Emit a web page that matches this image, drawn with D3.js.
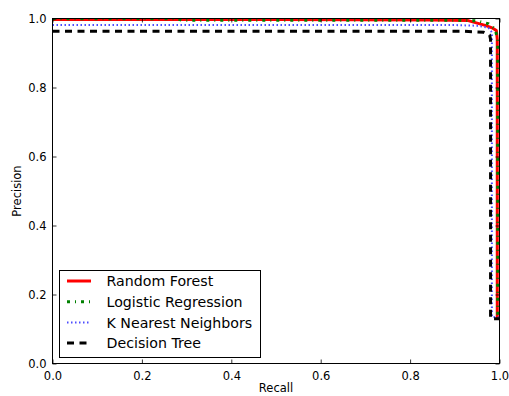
<!DOCTYPE html>
<html>
<head>
<meta charset="utf-8">
<script src="https://cdn.jsdelivr.net/npm/d3@7"></script>
<style>
  body { margin: 0; background: #fff; }
  text { font-family: "DejaVu Sans", sans-serif; fill: #000; }
</style>
</head>
<body>
<svg id="chart" width="509" height="396"></svg>
<script>
// precision-recall curves, values
const seriesNames = ["Random Forest", "Logistic Regression", "K Nearest Neighbors", "Decision Tree"]

const rfRecall    = [0, 0.50, 0.85, 0.93, 0.968, 0.985, 0.993, 0.995, 0.995, 1.0]
const rfPrecision = [0.997, 0.997, 0.996, 0.994, 0.98, 0.972, 0.965, 0.94, 0.133, 0.133]

const lrRecall    = [0, 0.28, 0.29, 0.90, 0.95, 0.975, 0.99, 0.996, 0.996, 1.0]
const lrPrecision = [0.999, 0.999, 0.995, 0.995, 0.993, 0.985, 0.97, 0.94, 0.133, 0.133]

const knnRecall    = [0, 0.90, 0.95, 0.975, 0.983, 0.983, 1.0]
const knnPrecision = [0.981, 0.981, 0.979, 0.973, 0.96, 0.135, 0.133]

const dtRecall    = [0, 0.92, 0.965, 0.978, 0.98, 0.98, 1.0]
const dtPrecision = [0.963, 0.963, 0.96, 0.952, 0.94, 0.13, 0.13]

const xTicks = [0, 0.2, 0.4, 0.6, 0.8, 1.0]
const yTicks = [0, 0.2, 0.4, 0.6, 0.8, 1.0]

const colors = ["#ff0000", "#008000", "#4d4dff", "#000000"]
const dashes = [null, "3,5,1,5", "1.5,2.5", "7,5.5"]
const widths = [3, 3, 2, 3]

const pLeft = 52.5, pRight = 499.5, pTop = 18.5, pBottom = 363.5

const x = d3.scaleLinear().domain([0, 1]).range([pLeft, pRight])
const y = d3.scaleLinear().domain([0, 1]).range([pBottom, pTop])

const svg = d3.select("#chart")

svg.append("defs").append("clipPath")
   .attr("id", "plotClip")
   .append("rect")
   .attr("x", pLeft).attr("y", pTop)
   .attr("width", pRight - pLeft).attr("height", pBottom - pTop)

const curves = [
  rfRecall.map((r, i) => [r, rfPrecision[i]]),
  lrRecall.map((r, i) => [r, lrPrecision[i]]),
  knnRecall.map((r, i) => [r, knnPrecision[i]]),
  dtRecall.map((r, i) => [r, dtPrecision[i]])
]

const line = d3.line().x(d => x(d[0])).y(d => y(d[1]))

const plot = svg.append("g").attr("clip-path", "url(#plotClip)")

curves.forEach((c, i) => {
  plot.append("path")
      .attr("d", line(c))
      .attr("fill", "none")
      .attr("stroke", colors[i])
      .attr("stroke-width", widths[i])
      .attr("stroke-dasharray", dashes[i])
      .attr("stroke-linejoin", "round")
})

// axes, ticks pointing inward on all sides
const axB = svg.append("g").attr("transform", `translate(0,${pBottom})`)
               .call(d3.axisBottom(x).tickValues(xTicks).tickFormat(d3.format(".1f")).tickSizeInner(-4).tickSizeOuter(0).tickPadding(6))
const axT = svg.append("g").attr("transform", `translate(0,${pTop})`)
               .call(d3.axisTop(x).tickValues(xTicks).tickFormat("").tickSizeInner(-4).tickSizeOuter(0))
const axL = svg.append("g").attr("transform", `translate(${pLeft},0)`)
               .call(d3.axisLeft(y).tickValues(yTicks).tickFormat(d3.format(".1f")).tickSizeInner(-4).tickSizeOuter(0).tickPadding(6))
const axR = svg.append("g").attr("transform", `translate(${pRight},0)`)
               .call(d3.axisRight(y).tickValues(yTicks).tickFormat("").tickSizeInner(-4).tickSizeOuter(0))

;[axB, axT, axL, axR].forEach(a => {
  a.select(".domain").remove()
  a.selectAll(".tick line").attr("stroke", "#000").attr("stroke-width", 0.8)
  a.selectAll("text").attr("font-size", 11.5).style("font-family", "DejaVu Sans")
})
axB.selectAll("text").attr("dy", "0.9em")

svg.append("rect")
   .attr("x", pLeft).attr("y", pTop)
   .attr("width", pRight - pLeft).attr("height", pBottom - pTop)
   .attr("fill", "none").attr("stroke", "#000").attr("stroke-width", 1)

svg.append("text")
   .attr("x", (pLeft + pRight) / 2).attr("y", 392)
   .attr("text-anchor", "middle").attr("font-size", 11.5)
   .text("Recall")

svg.append("text")
   .attr("transform", `translate(21,${(pTop + pBottom) / 2}) rotate(-90)`)
   .attr("text-anchor", "middle").attr("font-size", 11.5)
   .text("Precision")

// legend
const legend = svg.append("g")
legend.append("rect")
      .attr("x", 59.5).attr("y", 270.5)
      .attr("width", 201).attr("height", 87)
      .attr("fill", "#fff").attr("stroke", "#000").attr("stroke-width", 1)

seriesNames.forEach((name, i) => {
  const ly = 281 + i * 20.7
  legend.append("line")
        .attr("x1", 67).attr("x2", 91)
        .attr("y1", ly).attr("y2", ly)
        .attr("stroke", colors[i])
        .attr("stroke-width", widths[i])
        .attr("stroke-dasharray", dashes[i])
  legend.append("text")
        .attr("x", 106.5).attr("y", ly)
        .attr("dy", "0.36em")
        .attr("font-size", 14.2)
        .text(name)
})
</script>
</body>
</html>
